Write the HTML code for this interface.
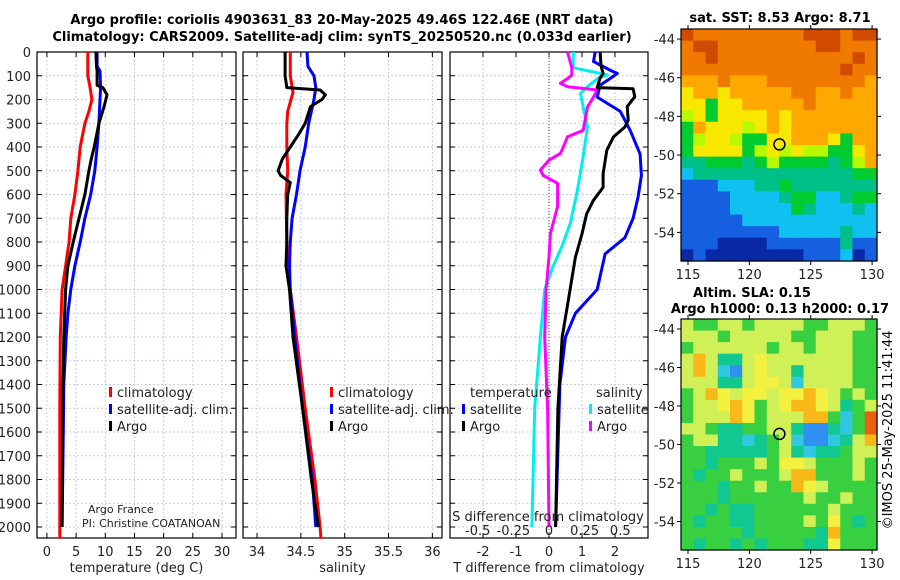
<!DOCTYPE html>
<html><head><meta charset="utf-8">
<style>
body{margin:0;background:#fff;}
svg{display:block;font-family:"DejaVu Sans","Liberation Sans",sans-serif;}
</style></head>
<body>
<svg id="fig" width="900" height="580" viewBox="0 0 900 580" xmlns="http://www.w3.org/2000/svg">
<text x="342" y="24" font-size="13" font-weight="bold" text-anchor="middle">Argo profile: coriolis 4903631_83 20-May-2025 49.46S 122.46E (NRT data)</text>
<text x="342" y="41" font-size="13" font-weight="bold" text-anchor="middle">Climatology: CARS2009. Satellite-adj clim: synTS_20250520.nc (0.033d earlier)</text>
<text x="780" y="22" font-size="13" font-weight="bold" text-anchor="middle">sat. SST: 8.53 Argo: 8.71</text>
<text x="752" y="297" font-size="13" font-weight="bold" text-anchor="middle">Altim. SLA: 0.15</text>
<text x="780" y="313" font-size="13" font-weight="bold" text-anchor="middle">Argo h1000: 0.13 h2000: 0.17</text>
<text transform="translate(892,430) rotate(-90)" font-size="13" text-anchor="middle">©IMOS 25-May-2025 11:41:44</text>
<g id="plots"></g>
</svg>
<script>
// ---- depth axis ----
const depthTicks = [0,100,200,300,400,500,600,700,800,900,1000,1100,1200,1300,1400,1500,1600,1700,1800,1900,2000];
// ---- temperature panel ----
const tempTicks = [0,5,10,15,20,25,30];
const tClimDepth = [0,100,150,200,250,300,400,500,600,700,800,900,1000,1200,1500,2000,2050];
const tClimVal   = [7.0,7.0,7.4,7.7,7.2,6.5,5.7,5.3,4.8,4.1,3.8,3.2,2.6,2.3,2.2,2.2,2.2];
const tSatDepth = [0,60,80,150,200,300,400,500,600,700,800,900,1000,1100,1200,1400,1600,2000];
const tSatVal   = [8.6,8.6,9.1,9.2,9.1,8.9,8.6,8.2,7.5,6.5,5.7,4.8,4.1,3.6,3.3,2.9,2.8,2.6];
const tArgoDepth = [0,60,80,140,150,180,230,300,400,450,500,600,700,800,900,1000,1200,1500,2000];
const tArgoVal   = [8.4,8.5,8.6,8.6,9.6,10.3,9.8,8.9,8.1,7.6,7.2,6.5,5.5,4.5,3.6,3.2,2.9,2.7,2.6];
// ---- salinity panel ----
const salTicks = [34,34.5,35,35.5,36];
const sClimDepth = [0,100,170,250,300,400,500,600,800,900,1000,1200,1500,1800,2000,2050];
const sClimVal   = [34.38,34.38,34.41,34.35,34.34,34.34,34.35,34.33,34.34,34.35,34.38,34.45,34.55,34.66,34.72,34.73];
const sSatDepth = [0,60,100,150,200,300,400,500,600,700,800,900,1000,1200,1500,1800,2000];
const sSatVal   = [34.57,34.58,34.65,34.67,34.65,34.59,34.55,34.49,34.45,34.40,34.38,34.37,34.38,34.43,34.52,34.63,34.67];
const sArgoDepth = [0,100,150,160,180,200,230,300,350,400,450,500,520,550,600,700,800,900,1000,1200,1500,1800,2000];
const sArgoVal   = [34.32,34.32,34.34,34.72,34.78,34.74,34.61,34.55,34.47,34.38,34.29,34.24,34.27,34.38,34.35,34.34,34.34,34.33,34.37,34.41,34.52,34.62,34.70];
// ---- difference panel ----
const dTTicks = [-2,-1,0,1,2];
const dSTicks = [-0.5,-0.25,0,0.25,0.5];
const dSTickLabels = ["-0.5","-0.25","0","0.25","0.5"];
const dTSatDepth = [0,40,80,90,110,140,190,250,330,430,520,610,700,782,850,1000,1100,1200,1400,2000];
const dTSatVal   = [1.4,1.35,1.9,2.07,1.87,1.55,1.46,2.16,2.46,2.76,2.8,2.7,2.55,2.3,1.7,1.46,0.8,0.5,0.33,0.2];
const dTArgoDepth = [0,60,90,110,150,155,188,230,287,316,358,414,513,570,626,682,766,864,1000,1200,1500,2000];
const dTArgoVal   = [1.55,1.58,1.64,1.55,1.46,2.55,2.6,2.37,2.4,2.3,1.95,1.75,1.64,1.64,1.34,1.14,1.0,0.8,0.64,0.4,0.27,0.2];
const dSSatDepth = [0,66,97,112,146,175,231,315,440,580,720,820,900,1000,1200,1500,2000];
const dSSatVal   = [0.17,0.17,0.41,0.34,0.27,0.22,0.24,0.27,0.24,0.2,0.15,0.09,0.03,-0.03,-0.06,-0.1,-0.12];
const dSArgoDepth = [0,66,97,112,132,146,160,202,231,330,357,400,427,455,497,520,553,650,764,862,1000,1200,1500,2000];
const dSArgoVal   = [0.13,0.16,0.16,0.13,0.08,0.13,0.34,0.3,0.27,0.24,0.13,0.1,0.08,0.0,-0.06,-0.04,0.06,0.06,0.01,0.0,-0.02,-0.03,-0.01,0.0];
// ---- maps ----
const mapLonTicks = [115,120,125,130];
const mapLatTicks = [-44,-46,-48,-50,-52,-54];
const argoLon = 122.45, argoLat = -49.45;
const sstGrid = [
"ROOOOOOOOORRRORR","ORROOOOOOOORROOO","OOROOOOOOOOOOORO","OOOOOOOOOOOOOROO","AAAOAAAOOOOOOOOA",
"YAAYAAAAAOOAAOAA","YYGYYAAAAAOAAAAA","LYGYYYYAYAAAAAAA","GAYYYLYAYAAAAAAA","GLYYLGGYYAAAYGAA",
"GYYYYGLYLYLLGGYA","TTGGGTGLGGGGTGLA","CTTTTTTTTTTTTTGG","BBBCCCTTGTTTTTTT","BBBBCCCCTGGCCTGG",
"BBBBCCCCCGTCCCTC","BBBBBCCCCCCCCCCC","BBBBBBBBCCCCCTCC","BBBDDDDBBBBBBTBB","DBDDDDDDDDBBBCDB"];
const slaGrid = [
"LGGLLGLLLLGGLLLG","LLLGLLLLLGGLLLGG","GLLLLLLGLLGLLLGG","LALTTLYLLLLLLLGG","LALCBLYLLTLLLLGG",
"LLLTTLYYLCLLLLGG","GLAYLYYLYYAYLGLG","GLLYAYGLYAAYLTGL","GLLLAYGLLLAAGCGR","LLGTTGGLLTBBTCGR",
"GLLTTCTGLCBBCTLA","GGTTTTTGLTCTTGLL","GGTGGGLGYYLGGGLG","GTGGLGGGLAAGGGLG","GGGTGGLGGAYLGGGG",
"GGGTGGGGGGLGGLGG","GGTGTTGGGGGGLGGG","GTGGTTGGGGLGYGTG","GGGGGTGGGGGTAGGG","GTGGTGTGGGTTYGGG"];

const NS="http://www.w3.org/2000/svg";
const root=document.getElementById('plots');
function mk(tag,attrs,parent){const e=document.createElementNS(NS,tag);for(const k in attrs)e.setAttribute(k,attrs[k]);(parent||root).appendChild(e);return e;}
function txt(s,x,y,opt,parent){const e=mk('text',Object.assign({x:x,y:y,'font-size':13,fill:'#222'},opt||{}),parent);e.textContent=s;return e;}

const Y0=52, YS=0.2375, TOP=52, BOT=538;
const yD=d=>Y0+d*YS;

const panels=[
 {name:'temperature',l:37,r:236,xmin:-1.7,xmax:32.4,ticks:tempTicks,label:'temperature (deg C)'},
 {name:'salinity',l:243,r:442,xmin:33.84,xmax:36.11,ticks:salTicks,label:'salinity'},
 {name:'difference',l:450,r:648,xmin:-3.0,xmax:3.0,ticks:dTTicks,label:'T difference from climatology'}
];
panels.forEach(p=>{p.x=v=>p.l+(v-p.xmin)/(p.xmax-p.xmin)*(p.r-p.l);});

function drawLine(p,depths,vals,color,name,conv){
  const pts=depths.map((d,i)=>{const v=conv?conv(vals[i]):vals[i];return p.x(v).toFixed(1)+','+yD(d).toFixed(1);}).join(' ');
  const e=mk('polyline',{points:pts,fill:'none',stroke:color,'stroke-width':3,'stroke-linejoin':'round'});
  
  
}

panels.forEach((p,pi)=>{
  const g=mk('g',{});
  
  
  depthTicks.forEach(d=>{
    const e=mk('line',{x1:p.l,x2:p.r,y1:yD(d),y2:yD(d),stroke:'#c8cde8','stroke-width':1,'stroke-dasharray':'2,2'},g);
    
    
    mk('line',{x1:p.l,x2:p.l+5,y1:yD(d),y2:yD(d),stroke:'#000'},g);
    mk('line',{x1:p.r-5,x2:p.r,y1:yD(d),y2:yD(d),stroke:'#000'},g);
  });
  p.ticks.forEach((t,i)=>{
    const x=p.x(t);
    const e=mk('line',{x1:x,x2:x,y1:TOP,y2:BOT,stroke:'#c8cde8','stroke-width':1,'stroke-dasharray':'2,2'},g);
    
    
    mk('line',{x1:x,x2:x,y1:BOT-5,y2:BOT,stroke:'#000'},g);
    mk('line',{x1:x,x2:x,y1:TOP,y2:TOP+5,stroke:'#000'},g);
    const l=txt(String(t),x,556,{'text-anchor':'middle'},g);
    
    
  });
  const f=mk('rect',{x:p.l,y:TOP,width:p.r-p.l,height:BOT-TOP,fill:'none',stroke:'#000','stroke-width':1.2},g);
  
  
  const xl=txt(p.label,(p.l+p.r)/2,572,{'text-anchor':'middle'},g);
  
  
});
depthTicks.forEach(d=>{
  const e=txt(String(d),31,yD(d)+5,{'text-anchor':'end'});
  
  
});
const P0=panels[0],P1=panels[1],P2=panels[2];
const zl=mk('line',{x1:P2.x(0),x2:P2.x(0),y1:TOP,y2:BOT,stroke:'#335533','stroke-width':1,'stroke-dasharray':'1,2'});



drawLine(P0,tClimDepth,tClimVal,'#ff0000','temp-climatology-line');
drawLine(P0,tSatDepth,tSatVal,'#0000ff','temp-satellite-line');
drawLine(P0,tArgoDepth,tArgoVal,'#000000','temp-argo-line');
drawLine(P1,sClimDepth,sClimVal,'#ff0000','sal-climatology-line');
drawLine(P1,sSatDepth,sSatVal,'#0000ff','sal-satellite-line');
drawLine(P1,sArgoDepth,sArgoVal,'#000000','sal-argo-line');
drawLine(P2,dSSatDepth,dSSatVal,'#00eeee','sdiff-satellite-line',s=>s*4.32);
drawLine(P2,dSArgoDepth,dSArgoVal,'#ff00ff','sdiff-argo-line',s=>s*4.32);
drawLine(P2,dTSatDepth,dTSatVal,'#0000ff','tdiff-satellite-line');
drawLine(P2,dTArgoDepth,dTArgoVal,'#000000','tdiff-argo-line');

const sl=txt('S difference from climatology',548,521,{'text-anchor':'middle'});


dSTicks.forEach((s,i)=>{
  const e=txt(dSTickLabels[i],P2.x(s*4.32),535,{'text-anchor':'middle'});
  
  
});

function legend(x,y,color,label,name){
  const m=mk('rect',{x:x,y:y-10,width:3,height:10,fill:color});
  
  
  const t=txt(label,x+8,y,{});
  
  
}
legend(109,397,'#ff0000','climatology','legend-temp-climatology');
legend(109,414,'#0000ff','satellite-adj. clim.','legend-temp-satellite');
legend(109,431,'#000000','Argo','legend-temp-argo');
legend(330,397,'#ff0000','climatology','legend-sal-climatology');
legend(330,414,'#0000ff','satellite-adj. clim.','legend-sal-satellite');
legend(330,431,'#000000','Argo','legend-sal-argo');
const lt=txt('temperature',470,397,{});
legend(462,414,'#0000ff','satellite','legend-tdiff-satellite');
legend(462,431,'#000000','Argo','legend-tdiff-argo');
const ls=txt('salinity',596,397,{});
legend(589,414,'#00eeee','satellite','legend-sdiff-satellite');
legend(589,431,'#ff00ff','Argo','legend-sdiff-argo');
const a1=txt('Argo France',88,513,{'font-size':11});
const a2=txt('PI: Christine COATANOAN',82,527,{'font-size':11});

const sstColors={R:'#d04a00',O:'#f07a00',A:'#ffa800',Y:'#f8e800',L:'#b8f800',G:'#00cc30',T:'#00c088',C:'#10c0f0',B:'#1560e0',D:'#0828a8'};
const slaColors={G:'#38d040',L:'#d0f058',Y:'#f4f040',A:'#f8b818',R:'#e86010',T:'#10c890',C:'#30c8e0',B:'#3090f0'};
function drawMap(name,top,bottom,grid,colors){
  const L=681,R=877,lonMin=114.43,lonMax=130.4,latTop=-43.48,latBot=-55.48;
  const xL=v=>L+(v-lonMin)/(lonMax-lonMin)*(R-L);
  const yL=v=>top+(v-latTop)/(latBot-latTop)*(bottom-top);
  const g=mk('g',{});
  
  
  const rows=grid.length,cols=grid[0].length;
  const cw=(R-L)/cols,ch=(bottom-top)/rows;
  grid.forEach((row,ri)=>{for(let ci=0;ci<cols;ci++){
    const c=mk('rect',{x:(L+ci*cw).toFixed(2),y:(top+ri*ch).toFixed(2),width:(cw+0.6).toFixed(2),height:(ch+0.6).toFixed(2),fill:colors[row[ci]]},g);
    
    
  }});
  const f=mk('rect',{x:L,y:top,width:R-L,height:bottom-top,fill:'none',stroke:'#000','stroke-width':1.2},g);
  
  
  mapLonTicks.forEach(v=>{
    const x=xL(v);
    mk('line',{x1:x,x2:x,y1:bottom,y2:bottom+4,stroke:'#000'},g);
    mk('line',{x1:x,x2:x,y1:top,y2:top-4,stroke:'#000'},g);
    const t=txt(String(v),x,bottom+18,{'text-anchor':'middle'},g);
    
    
  });
  mapLatTicks.forEach(v=>{
    const y=yL(v);
    mk('line',{x1:R,x2:R+4,y1:y,y2:y,stroke:'#000'},g);
    mk('line',{x1:L,x2:L-4,y1:y,y2:y,stroke:'#000'},g);
    const t=txt(String(v),L-6,y+5,{'text-anchor':'end'},g);
    
    
  });
  const c=mk('circle',{cx:xL(argoLon),cy:yL(argoLat),r:5.5,fill:'none',stroke:'#000','stroke-width':1.5},g);
  
  
}
drawMap('sst-map',29,261,sstGrid,sstColors);
drawMap('sla-map',319,550,slaGrid,slaColors);
</script>
</body></html>
